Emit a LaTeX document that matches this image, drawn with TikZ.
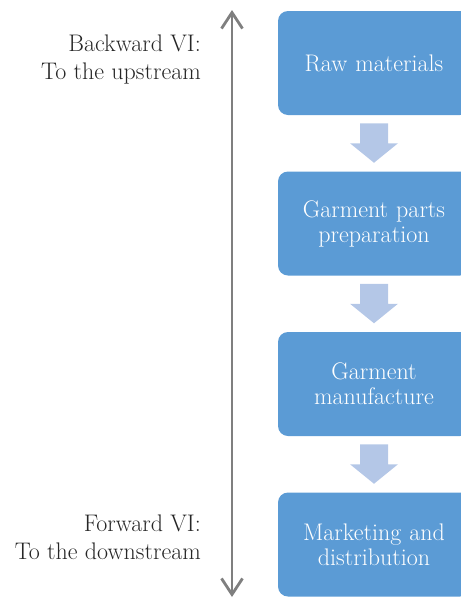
\documentclass[tikz,border=0pt]{standalone}
\usetikzlibrary{positioning,calc,arrows.meta}
\definecolor{boxblue}{HTML}{5B9BD5}
\definecolor{arrowblue}{HTML}{B4C7E7}
\definecolor{axisgray}{HTML}{7F7F7F}

\begin{document}
\begin{tikzpicture}[x=1pt,y=-1pt,node distance=160.5pt,
  stage/.style={fill=boxblue,text=white,rounded corners=10pt,minimum width=192pt,minimum height=104pt,text width=172pt,align=center,inner sep=0pt,font=\rmfamily\fontsize{24}{25}\selectfont},
  side/.style={anchor=east,align=right,inner sep=0pt,text=black!85,font=\rmfamily\fontsize{24}{28}\selectfont},
  flow/.style={fill=arrowblue},
  axis/.style={axisgray,line width=2.8pt,{Straight Barb[length=16pt,width=21pt]}-{Straight Barb[length=16pt,width=21pt]}}]
\clip (0,0) rectangle (461,598);
\node[stage] at (374,63) (raw) {Raw materials};
\node[stage,below of=raw] (parts) {Garment parts\\preparation};
\node[stage,below of=parts] (manuf) {Garment\\manufacture};
\node[stage,below of=manuf] (market) {Marketing and\\distribution};

% block arrows between the stages
\foreach \a/\b in {raw/parts,parts/manuf,manuf/market}
  \fill[flow] ($(\a.south)!.5!(\b.north)$) ++(-14,-20) -- ++(28,0) -- ++(0,20) -- ++(10,0) -- ++(-24,19.5) -- ++(-24,-19.5) -- ++(10,0) -- cycle;

\coordinate (up) at (232,10);
\coordinate (down) at (232,597);
\draw[axis] (up) -- (down);

\node[side] at (201,60) (backward) {Backward VI:\\To the upstream};
\node[side] at (201,537.5) (forward) {Forward VI:\\To the downstream};
\end{tikzpicture}
\end{document}
